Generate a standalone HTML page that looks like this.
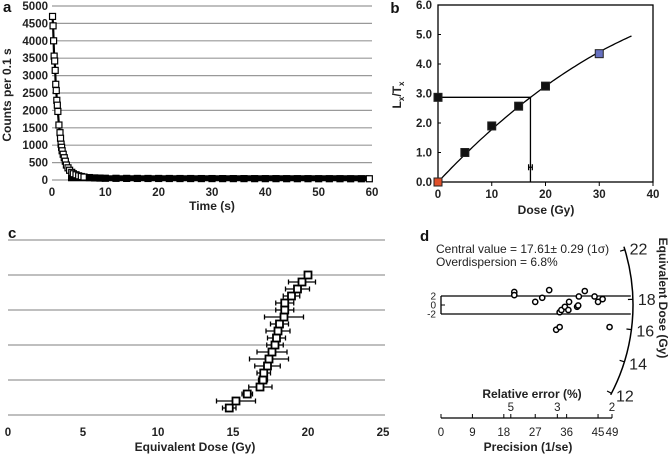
<!DOCTYPE html>
<html><head><meta charset="utf-8"><style>
html,body{margin:0;padding:0;background:#fff;}
svg{display:block;font-family:"Liberation Sans",sans-serif;}
.tk{font-size:11.5px;font-weight:bold;fill:#222;}
.tt{font-size:12px;font-weight:bold;fill:#222;}
.pl{font-size:15px;font-weight:bold;fill:#111;}
</style></head><body>
<svg id="fig" width="670" height="454" viewBox="0 0 670 454" xmlns="http://www.w3.org/2000/svg"></svg>
<script>
// ---------- Panel a data ----------
const aTimes = [0.1,0.2,0.3,0.4,0.5,0.6,0.7,0.8,0.9,1.0,1.1,1.3,1.5,1.6,1.7,1.8,1.9,2.1,2.3,2.5,2.7,3.0,3.3,3.7,4.0,4.5,5.0,5.5,6.0,7.0,8.0,9.0,10,12,14,16,18,20,22,24,26,28,30,32,34,36,38,40,42,44,46,48,50,52,54,56,58,59.5];
const aCounts = [4700,4430,4000,3560,3420,3150,2750,2570,2290,2150,1970,1580,1360,1200,1030,940,840,740,640,540,430,350,280,220,180,150,120,100,85,70,60,55,50,48,46,45,44,44,43,42,42,41,41,40,40,40,39,39,39,38,38,38,37,37,37,36,36,36];
const aXTicks = [0,10,20,30,40,50,60];
const aYTicks = [0,500,1000,1500,2000,2500,3000,3500,4000,4500,5000];
// ---------- Panel b data ----------
const bDose = [5,10,15,20];
const bRatio = [1.0,1.9,2.57,3.25];
const bNatural = [0,2.87];
const bZero = [0,0];
const bRecycle = [30,4.35];
const bDe = 17.2;
const bDeErr = 0.35;
const bFit = [0.1937,-0.001562];
const bXTicks = [0,10,20,30,40];
const bYTicks = [0,1,2,3,4,5,6];
// ---------- Panel c data ----------
const cDe = [14.75,15.2,15.95,16.8,17.0,17.05,17.3,17.4,17.6,17.8,17.9,18.0,18.1,18.4,18.45,18.45,18.9,19.3,19.6,20.0];
const cErrLo = [0.45,1.3,0.35,0.75,0.3,0.45,0.85,1.3,1.0,0.55,0.6,0.8,0.6,1.3,0.6,0.6,0.55,0.8,0.9,0];
const cErrHi = [0.45,1.3,0.35,0.8,0.3,0.45,0.85,1.3,1.0,0.55,0.6,0.8,0.6,1.3,0.6,0.6,0.55,0.8,0.9,0];
const cXTicks = [0,5,10,15,20,25];
// ---------- Panel d data ----------
const dPrecision = [21,21,27,29,31,33,34,34,34.5,35.5,36.5,36.7,39,39.3,39.5,41.2,44,45,46.3,48.3];
const dZ = [2.9,2.2,0.7,1.6,3.3,-5.5,-4.9,-1.6,-1.1,-0.4,-1.1,0.7,-0.4,-0.1,1.9,3.1,1.9,0.7,1.3,-4.9];
const dPrecTicks = [0,9,18,27,36,45,49];
const dRelErr = [5,3,2];
const dDoseTicks = [12,14,16,18,22];
const dCentral = 17.61;

const NS="http://www.w3.org/2000/svg";
const svg=document.getElementById('fig');
function mk(tag,attrs,parent){const e=document.createElementNS(NS,tag);for(const k in attrs)e.setAttribute(k,attrs[k]);(parent||svg).appendChild(e);return e;}
function txt(s,x,y,cls,anchor,parent){const t=mk('text',{x:x,y:y,class:cls,'text-anchor':anchor||'middle'},parent);t.textContent=s;return t;}

// ===== Panel a =====
const ga=mk('g',{});


const ax=v=>52+v*(372-52)/60, ay=v=>180-v*(174/5000);
aYTicks.forEach(v=>{const l=mk('line',{x1:52,x2:372,y1:ay(v),y2:ay(v),stroke:'#999','stroke-width':1.2},ga);
 
 const t=txt(String(v),48,ay(v)+4,'tk','end',ga);});
aXTicks.forEach(v=>{const t=txt(String(v),ax(v),196,'tk','middle',ga);});
let ap='M'+ax(0)+','+ay(4750);aTimes.forEach((t,i)=>{ap+='L'+ax(t).toFixed(1)+','+ay(aCounts[i]).toFixed(1);});
const aline=mk('path',{d:ap,fill:'none',stroke:'#000','stroke-width':2.2},ga);

mk('rect',{x:ax(3),y:ay(50)-3,width:ax(59.5)-ax(3),height:6,fill:'#000'},ga);
aTimes.forEach((t,i)=>{const last=i===aTimes.length-1;const tail=t>6&&!last;
 const r=mk('rect',{x:ax(t)-3,y:ay(aCounts[i])-3,width:6,height:6,fill:tail?'#000':'#fff',stroke:'#000','stroke-width':1.2},ga);
 });
let t1=txt('a',3,12,'pl','start',ga);
t1=txt('Time (s)',212,210,'tt','middle',ga);
t1=txt('Counts per 0.1 s',0,0,'tt','middle',ga);t1.setAttribute('transform','translate(11,95) rotate(-90)');


// ===== Panel b =====
const gb=mk('g',{});


const bx=v=>438+v*(653-438)/40, by=v=>182-v*(177/6);
const frame=mk('rect',{x:438,y:5,width:215,height:177,fill:'none',stroke:'#000','stroke-width':1.3},gb);

bYTicks.forEach(v=>{const t=txt(v.toFixed(1),432,by(v)+4,'tk','end',gb);
 mk('line',{x1:438,x2:441,y1:by(v),y2:by(v),stroke:'#000'},gb);});
bXTicks.forEach(v=>{const t=txt(String(v),bx(v),198,'tk','middle',gb);
 mk('line',{x1:bx(v),x2:bx(v),y1:182,y2:186,stroke:'#000'},gb);});
let bp='';for(let d=0;d<=36;d+=0.5){const y=bFit[0]*d+bFit[1]*d*d;bp+=(d===0?'M':'L')+bx(d).toFixed(1)+','+by(y).toFixed(1);}
const bfit=mk('path',{d:bp,fill:'none',stroke:'#000','stroke-width':1.3},gb);

const natY=bNatural[1];
const hl=mk('polyline',{points:`${bx(0)},${by(natY)} ${bx(bDe)},${by(natY)} ${bx(bDe)},${by(0)}`,fill:'none',stroke:'#000','stroke-width':1.3},gb);

const eb=mk('path',{d:`M${bx(bDe-bDeErr)},${by(0.5)}H${bx(bDe+bDeErr)}M${bx(bDe-bDeErr)},${by(0.5)-3}v6M${bx(bDe+bDeErr)},${by(0.5)-3}v6`,stroke:'#000','stroke-width':1.2,fill:'none'},gb);

function bsq(d,r,fill,name){const s=mk('rect',{x:bx(d)-4,y:by(r)-4,width:8,height:8,fill:fill,stroke:'#222','stroke-width':1},gb);}
bDose.forEach((d,i)=>bsq(d,bRatio[i],'#111','b-regen-point'));
bsq(bNatural[0],bNatural[1],'#111','b-natural-point');
bsq(bRecycle[0],bRecycle[1],'#6670c0','b-recycle-point');
bsq(bZero[0],bZero[1],'#e0502a','b-zero-dose-point');
t1=txt('b',395,13,'pl','middle',gb);
t1=txt('Dose  (Gy)',546,214,'tt','middle',gb);
t1=mk('text',{class:'tt','text-anchor':'middle',transform:'translate(401,95) rotate(-90)'},gb);
t1.innerHTML='L<tspan font-size="8" dy="3">x</tspan><tspan dy="-3">/T</tspan><tspan font-size="8" dy="3">x</tspan>';


// ===== Panel c =====
const gc=mk('g',{});


const cx=v=>8+v*15, cy=i=>408-i*(408-275)/(cDe.length-1);
[240,275,310,345,380].forEach(y=>{const l=mk('line',{x1:8,x2:385,y1:y,y2:y,stroke:'#999','stroke-width':1.2},gc);});
mk('line',{x1:8,x2:385,y1:415,y2:415,stroke:'#999','stroke-width':1.2},gc);
cXTicks.forEach(v=>{const t=txt(String(v),cx(v),436,'tk','middle',gc);});
cDe.forEach((v,i)=>{const y=cy(i),x0=cx(v-cErrLo[i]),x1=cx(v+cErrHi[i]);
 if(cErrLo[i]>0){const e=mk('path',{d:`M${x0},${y}H${x1}M${x0},${y-2.5}v5M${x1},${y-2.5}v5`,stroke:'#000','stroke-width':1.3,fill:'none'},gc);}
 const r=mk('rect',{x:cx(v)-3.5,y:y-3.5,width:7,height:7,fill:'#fff',stroke:'#000','stroke-width':1.8},gc);});
t1=txt('c',8,238,'pl','start',gc);
t1=txt('Equivalent Dose (Gy)',195,451,'tt','middle',gc);

// ===== Panel d =====
const gd=mk('g',{});


const OX=441,OY=305,R=192;
const dx=p=>OX+p*3.49, dy=z=>OY-z*4.5;
const axl=mk('line',{x1:dx(0),x2:dx(49),y1:418,y2:418,stroke:'#000','stroke-width':1.3},gd);
dPrecTicks.forEach(p=>{mk('line',{x1:dx(p),x2:dx(p),y1:414,y2:418,stroke:'#000'},gd);
 const t=mk('text',{x:dx(p),y:436,'font-size':'11.5','text-anchor':'middle',fill:'#222'},gd);t.textContent=p;});
dRelErr.forEach(r=>{const p=Math.min(100/r,49);mk('line',{x1:dx(p),x2:dx(p),y1:414,y2:418,stroke:'#000'},gd);
 const t=mk('text',{x:dx(p),y:411,'font-size':'11.5','text-anchor':'middle',fill:'#222'},gd);t.textContent=r;});
t1=txt('Relative error (%)',532,398,'tt','middle',gd);
t1=txt('Precision (1/se)',528,451,'tt','middle',gd);
[2,-2].forEach(z=>{const l=mk('line',{x1:OX,x2:OX+Math.sqrt(R*R-(z*4.5)**2)-2,y1:dy(z),y2:dy(z),stroke:'#000','stroke-width':1.3},gd);});
mk('line',{x1:OX,x2:OX,y1:dy(2),y2:dy(-2),stroke:'#000','stroke-width':1.3},gd);
[[2,'2'],[0,'0'],[-2,'-2']].forEach(([z,s])=>{mk('line',{x1:OX,x2:OX+4,y1:dy(z),y2:dy(z),stroke:'#000'},gd);
 const t=mk('text',{x:436,y:dy(z)+3.5,'font-size':'10','text-anchor':'end',fill:'#222'},gd);t.textContent=s;});
const angScale=1.35;
const ang=d=>-Math.atan(Math.log(d/dCentral)*angScale);
const a1=ang(22.3),a2=ang(11.9);
const arc=mk('path',{d:`M${OX+R*Math.cos(a1)},${OY+R*Math.sin(a1)} A${R},${R} 0 0 1 ${OX+R*Math.cos(a2)},${OY+R*Math.sin(a2)}`,fill:'none',stroke:'#000','stroke-width':1.5},gd);

dDoseTicks.forEach(d=>{const a=ang(d),c=Math.cos(a),s=Math.sin(a);
 mk('line',{x1:OX+(R-5)*c,y1:OY+(R-5)*s,x2:OX+R*c,y2:OY+R*s,stroke:'#000','stroke-width':1.2},gd);
 const t=mk('text',{x:OX+(R+5)*c,y:OY+(R+5)*s+6,'font-size':'16','text-anchor':'start',fill:'#222'},gd);t.textContent=d;});
dPrecision.forEach((p,i)=>{const c=mk('circle',{cx:dx(p),cy:dy(dZ[i]),r:2.6,fill:'#fff',stroke:'#000','stroke-width':1.5},gd);});
t1=txt('d',420,241,'pl','start',gd);
t1=mk('text',{x:436,y:253,'font-size':'12',fill:'#222'},gd);t1.textContent='Central value = 17.61\u00b1 0.29 (1\u03c3)';
t1=mk('text',{x:436,y:266,'font-size':'12',fill:'#222'},gd);t1.textContent='Overdispersion = 6.8%';
t1=txt('Equivalent Dose (Gy)',0,0,'tt','middle',gd);t1.setAttribute('transform','translate(659,298) rotate(90)');
</script>
</body></html>
